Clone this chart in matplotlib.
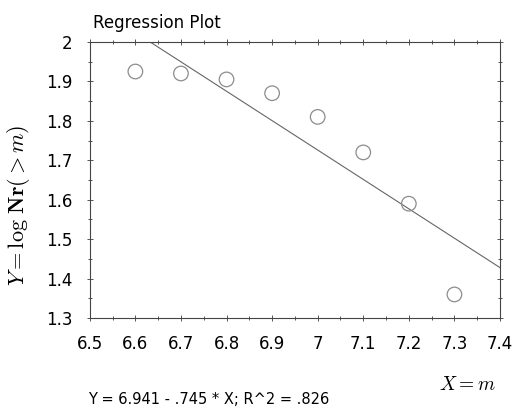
import numpy as np
import matplotlib.pyplot as plt
from matplotlib.ticker import MultipleLocator, FuncFormatter

# magnitudes and log cumulative counts
mag = [6.6, 6.7, 6.8, 6.9, 7.0, 7.1, 7.2, 7.3]
log_n = [1.925, 1.92, 1.905, 1.87, 1.81, 1.72, 1.59, 1.36]

# fit reported under the plot
intercept = 6.941
slope = -0.745
r2 = 0.826

fig = plt.figure(figsize=(5.16, 4.11), dpi=100)
ax = fig.add_axes([0.174, 0.226, 0.795, 0.672])

# regression line across the full x range, clipped by the axes
xl = np.array([6.5, 7.4])
ax.plot(xl, intercept + slope * xl, color='#666666', lw=0.8)
ax.scatter(mag, log_n, s=110, facecolors='none', edgecolors='#8c8c8c', linewidths=0.9, zorder=3)

ax.set_xlim(6.5, 7.4)
ax.set_ylim(1.3, 2.0)
ax.xaxis.set_major_locator(MultipleLocator(0.1))
ax.xaxis.set_minor_locator(MultipleLocator(0.05))
ax.yaxis.set_major_locator(MultipleLocator(0.1))
ax.yaxis.set_minor_locator(MultipleLocator(0.05))
fmt = FuncFormatter(lambda v, p: '%g' % round(v, 2))
ax.xaxis.set_major_formatter(fmt)
ax.yaxis.set_major_formatter(fmt)
ax.tick_params(which='both', direction='inout', top=True, right=True, color='#555555', width=0.7)
ax.tick_params(which='major', length=5, labelsize=12, pad=10)
ax.tick_params(which='minor', length=3)
for s in ax.spines.values():
    s.set_color('#444444')
    s.set_linewidth(0.8)

fig.text(0.180, 0.945, 'Regression Plot', fontsize=12, ha='left', va='center')
fig.text(0.035, 0.50, r'$Y = \log\,\mathbf{Nr}(>m)$', rotation=90, fontsize=16,
         ha='center', va='center', math_fontfamily='cm')
fig.text(0.905, 0.065, r'$X = m$', fontsize=14, ha='center', va='center', math_fontfamily='cm')
fig.text(0.170, 0.027, 'Y = %.3f - %s * X; R^2 = %s' % (intercept, ('%.3f' % -slope)[1:], ('%.3f' % r2)[1:]),
         fontsize=10.5, ha='left', va='center')

plt.savefig('out.png', dpi=100)
